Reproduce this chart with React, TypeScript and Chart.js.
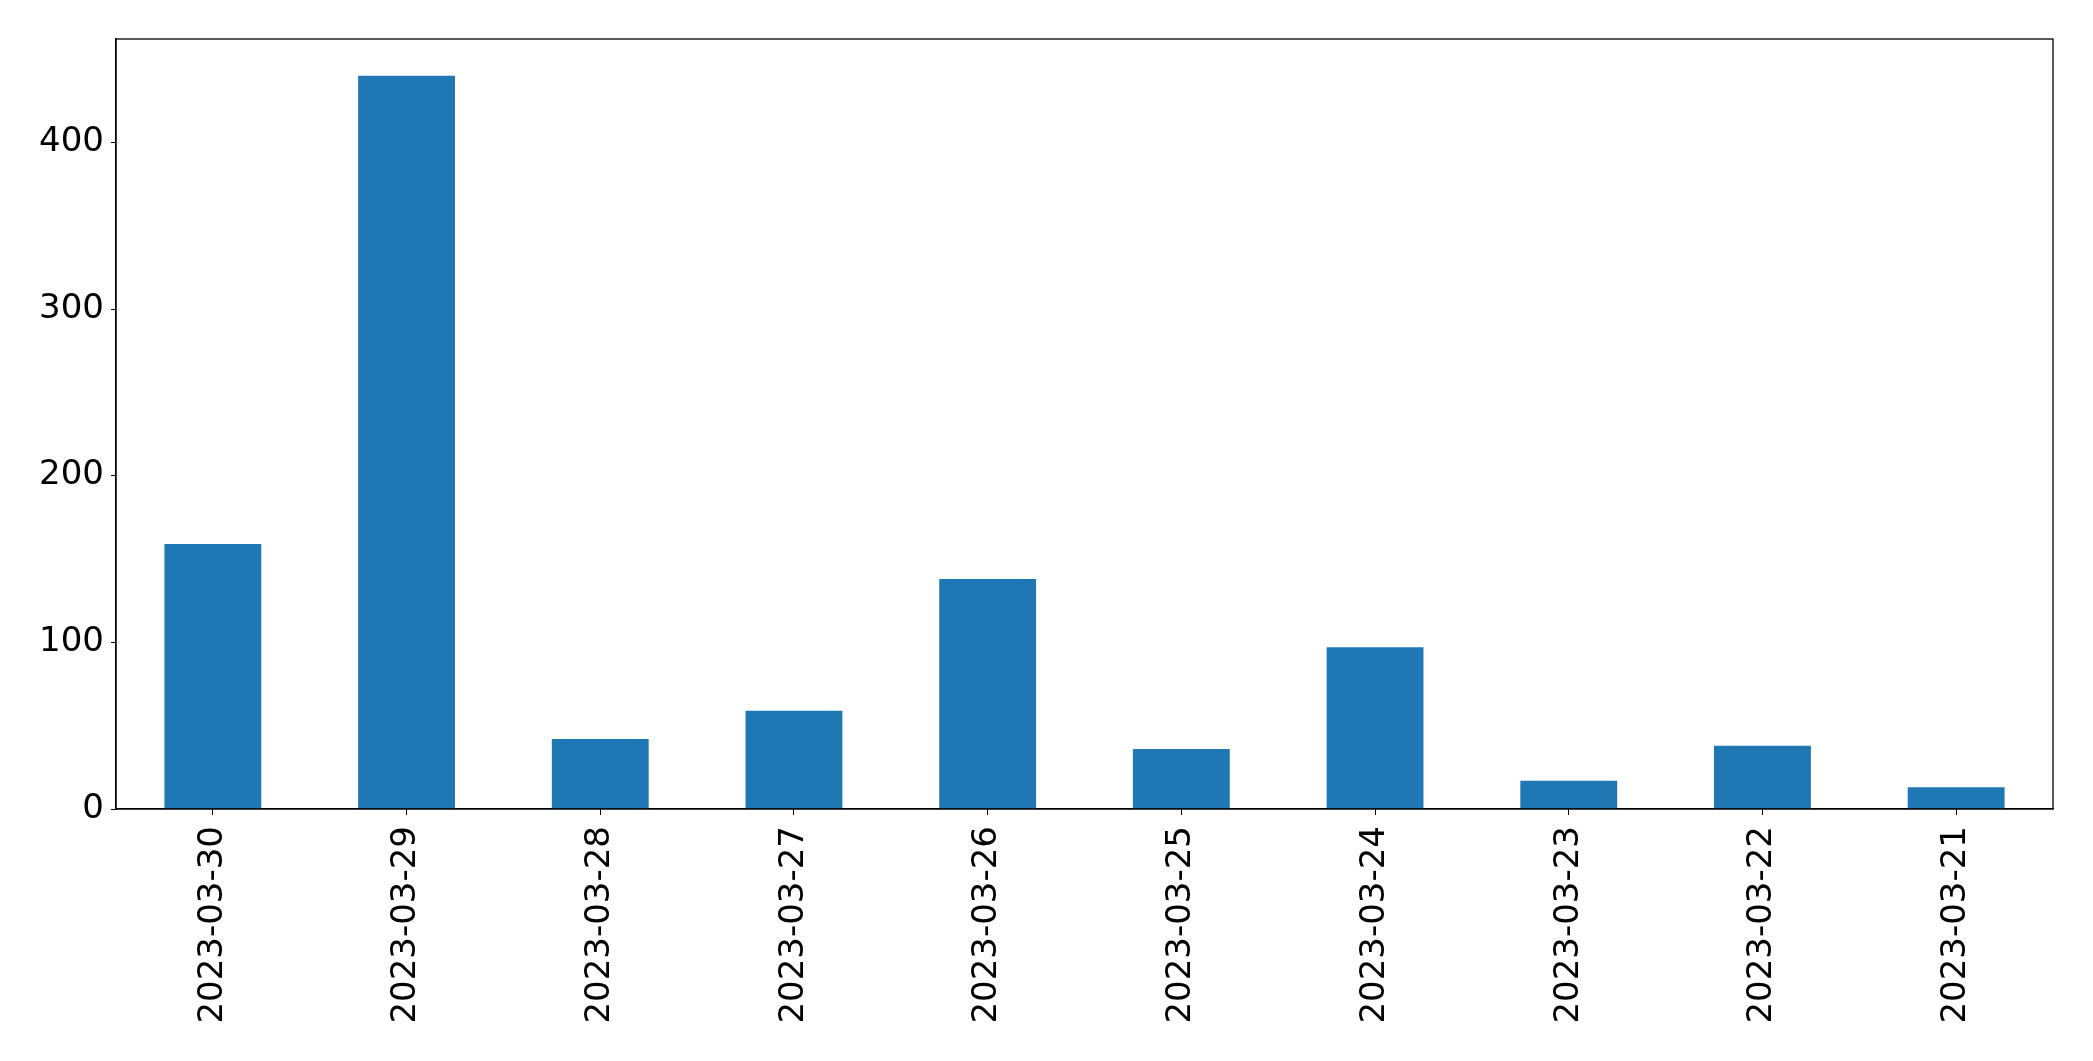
import React, { useEffect, useRef } from "react";
import { Chart, registerables } from "chart.js";

Chart.register(...registerables);

const categories = [
  "2023-03-30",
  "2023-03-29",
  "2023-03-28",
  "2023-03-27",
  "2023-03-26",
  "2023-03-25",
  "2023-03-24",
  "2023-03-23",
  "2023-03-22",
  "2023-03-21",
];
const counts = [159, 440, 42, 59, 138, 36, 97, 17, 38, 13];
const yTicks = [0, 100, 200, 300, 400];
const yMax = 462;

const W = 2093;
const H = 1061;

const frame = {
  id: "frame",
  afterDraw(chart: any) {
    const { ctx, chartArea } = chart;
    ctx.save();
    ctx.strokeStyle = "#000";
    ctx.lineWidth = 1.3;
    ctx.strokeRect(chartArea.left, chartArea.top, chartArea.right - chartArea.left, chartArea.bottom - chartArea.top);
    ctx.restore();
  },
};

export default function App() {
  const ref = useRef<HTMLCanvasElement>(null);
  useEffect(() => {
    if (!ref.current) return;
    const font = { family: "DejaVu Sans", size: 34 };
    const chart = new Chart(ref.current, {
      type: "bar",
      data: {
        labels: categories,
        datasets: [
          {
            data: counts,
            backgroundColor: "#1f77b4",
            categoryPercentage: 1,
            barPercentage: 0.5,
          },
        ],
      },
      options: {
        responsive: false,
        animation: false,
        devicePixelRatio: 1,
        layout: { padding: { top: 39, right: 40, left: 0, bottom: 0 } },
        plugins: { legend: { display: false }, tooltip: { enabled: false } },
        scales: {
          x: {
            offset: true,
            grid: { display: true, drawOnChartArea: false, tickLength: 6, tickColor: "#000", offset: false },
            border: { display: true, color: "#000", width: 1.3 },
            ticks: { font, color: "#000", minRotation: 90, maxRotation: 90, padding: 11, autoSkip: false },
            afterFit: (s: any) => {
              s.height = 252;
            },
          },
          y: {
            min: 0,
            max: yMax,
            grid: { display: true, drawOnChartArea: false, tickLength: 5, tickColor: "#000" },
            border: { display: true, color: "#000", width: 1.3 },
            ticks: { font, color: "#000", padding: 7, stepSize: 100 },
            afterBuildTicks: (s: any) => {
              s.ticks = yTicks.map((v) => ({ value: v }));
            },
            afterFit: (s: any) => {
              s.width = 116;
            },
          },
        },
      },
      plugins: [frame],
    });
    return () => chart.destroy();
  }, []);
  return (
    <div style={{ position: "fixed", left: 0, top: 0, width: W, height: H, background: "#fff" }}>
      <canvas ref={ref} width={W} height={H} style={{ width: W, height: H, display: "block" }} />
    </div>
  );
}
